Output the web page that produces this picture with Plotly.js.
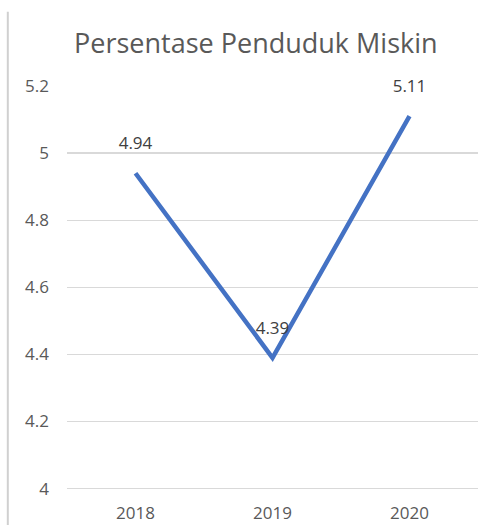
<!DOCTYPE html>
<html>
<head>
<meta charset="utf-8">
<script src="https://cdn.plot.ly/plotly-3.0.1.min.js"></script>
<style>html,body{margin:0;padding:0;background:#fff;}#chart{width:480px;height:525px;}</style>
</head>
<body>
<div id="chart"></div>
<script>
const years = ['2018', '2019', '2020'];
const values = [4.94, 4.39, 5.11];
const labels = ['4.94', '4.39', '5.11'];
const yTicks = [4, 4.2, 4.4, 4.6, 4.8, 5, 5.2];
const yTickText = ['4', '4.2', '4.4', '4.6', '4.8', '5', '5.2'];

const FONT = 'Open Sans, sans-serif';

const lineTrace = {
  x: years, y: values, type: 'scatter', mode: 'lines',
  line: {color: '#4472C4', width: 4.5},
  cliponaxis: false, hoverinfo: 'none'
};

const labelTrace = {
  x: years, y: values, type: 'scatter', mode: 'markers+text',
  text: labels, textposition: 'top center',
  marker: {size: 30, color: 'rgba(0,0,0,0)'},
  textfont: {family: FONT, size: 17, color: '#404040'},
  cliponaxis: false, hoverinfo: 'none'
};

const layout = {
  width: 480, height: 525,
  margin: {l: 67, r: 2, t: 86, b: 33},
  paper_bgcolor: '#fff', plot_bgcolor: '#fff',
  showlegend: false,
  title: {text: 'Persentase Penduduk Miskin', font: {family: FONT, size: 27, color: '#595959'},
    xref: 'container', yref: 'container', x: 0.533, y: 0.918, xanchor: 'center', yanchor: 'middle'},
  xaxis: {type: 'category', range: [-0.5, 2.5], showgrid: false, zeroline: false, showline: false,
    ticks: '', tickfont: {family: FONT, size: 17, color: '#595959'}, ticklabelstandoff: 9},
  yaxis: {range: [3.99, 5.2], tickvals: yTicks, ticktext: yTickText, showgrid: true, gridcolor: '#d9d9d9', gridwidth: 1.3,
    zeroline: false, showline: false, ticks: '', ticklabelstandoff: 17,
    tickfont: {family: FONT, size: 17, color: '#595959'}},
  shapes: [{type: 'line', xref: 'paper', yref: 'paper', x0: -0.144, x1: -0.144, y0: -0.09, y1: 1.183,
    line: {color: '#d0d0d0', width: 2}}]
};

Plotly.newPlot('chart', [lineTrace, labelTrace], layout, {staticPlot: true});
</script>
</body>
</html>
